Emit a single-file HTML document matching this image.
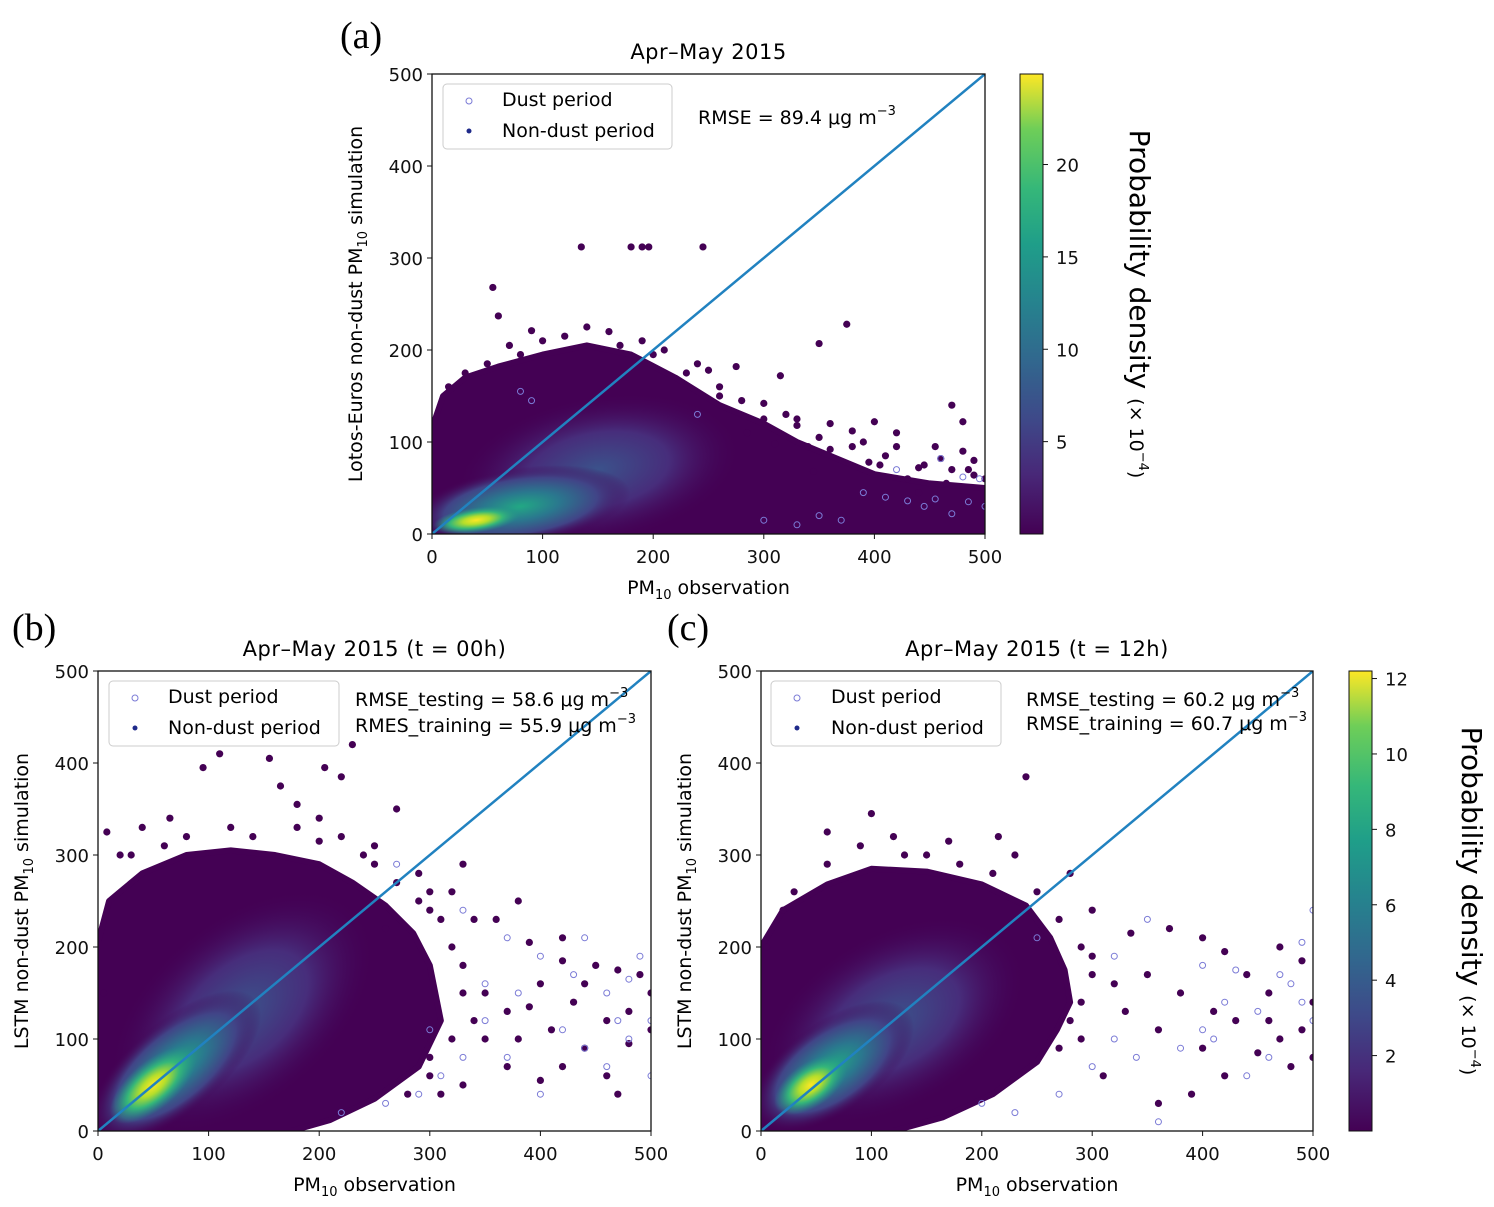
<!DOCTYPE html>
<html><head><meta charset="utf-8">
<style>
body{margin:0;background:#fff;}
svg{display:block;font-family:"DejaVu Sans","Liberation Sans",sans-serif;}
.tick{font-size:18px;fill:#111;}
.serif{font-family:"Liberation Serif",serif;}
</style></head>
<body>
<svg id="fig" width="1494" height="1207" viewBox="0 0 1494 1207">
<defs>
<linearGradient id="viridis" x1="0" y1="1" x2="0" y2="0">
<stop offset="0" stop-color="#440154"/><stop offset="0.13" stop-color="#482878"/><stop offset="0.25" stop-color="#3e4989"/><stop offset="0.38" stop-color="#31688e"/><stop offset="0.5" stop-color="#26828e"/><stop offset="0.63" stop-color="#1f9e89"/><stop offset="0.75" stop-color="#35b779"/><stop offset="0.88" stop-color="#6ece58"/><stop offset="1" stop-color="#fde725"/>
</linearGradient>
<radialGradient id="g0"><stop offset="0" stop-color="#3b528b"/><stop offset="0.5" stop-color="#472d7b"/><stop offset="1" stop-color="#440154" stop-opacity="0"/></radialGradient>
<radialGradient id="g1"><stop offset="0" stop-color="#22a884"/><stop offset="0.35" stop-color="#2a788e"/><stop offset="0.7" stop-color="#414487"/><stop offset="1" stop-color="#440154" stop-opacity="0"/></radialGradient>
<radialGradient id="g2"><stop offset="0" stop-color="#fde725"/><stop offset="0.3" stop-color="#b5de2b"/><stop offset="0.6" stop-color="#35b779"/><stop offset="1" stop-color="#21918c" stop-opacity="0"/></radialGradient>
</defs>
<g id="plots"></g>
</svg>
<script>
// ---------- data ----------
const panelNames = ["a","b","c"];
// cloud outlines [obs, sim]
const outlineA = [[0,0],[0,115],[10,150],[30,170],[60,182],[100,195],[140,205],[180,195],[220,170],[260,140],[300,120],[330,100],[360,85],[400,65],[450,55],[500,50],[500,0]];
const outlineB = [[0,0],[0,205],[10,250],[40,280],[80,300],[120,305],[160,300],[200,290],[230,270],[260,245],[285,215],[300,180],[310,120],[290,70],[250,35],[210,12],[175,0]];
const outlineC = [[0,0],[0,200],[20,240],[60,268],[100,285],[150,282],[200,268],[240,245],[262,210],[275,175],[280,140],[268,110],[250,75],[210,40],[165,15],[120,0]];
// density cores [obs, sim, rx, ry, angle, level]
const coresA = [[150,70,130,80,-10,0],[80,30,100,42,-8,1],[40,15,40,14,-8,2]];
const coresB = [[130,130,140,100,-40,0],[70,70,95,50,-40,1],[50,50,48,26,-40,2]];
const coresC = [[120,120,130,95,-30,0],[65,70,85,50,-35,1],[45,50,38,24,-35,2]];
// isolated non-dust points [obs, sim]
const ptsA = [[135,312],[180,312],[190,312],[196,312],[245,312],[55,268],[60,237],[90,221],[375,228],[350,207],[315,172],[275,182],[250,178],[400,122],[470,140],[480,122],[460,82],[490,64],[440,72],[380,112],[330,118],[360,92],[300,142],[420,95],[465,55],[395,78],[345,68],[310,98],[285,110],[430,60],[470,70],[490,80],[455,95],[410,85],[380,95],[350,105],[330,125],[320,130],[300,125],[420,110],[445,75],[500,60],[480,90],[390,100],[360,120],[340,95],[260,150],[230,175],[120,215],[160,220],[190,210],[210,200],[240,185],[70,205],[30,175],[15,160],[100,210],[140,225],[170,205],[200,195],[80,195],[50,185],[280,145],[260,160],[440,45],[485,70],[405,75]];
const ptsB = [[110,410],[155,405],[205,395],[95,395],[220,385],[270,350],[230,420],[8,325],[20,300],[180,355],[165,375],[200,315],[250,310],[290,280],[320,260],[340,230],[360,230],[300,240],[330,290],[380,250],[390,205],[420,210],[450,180],[470,175],[490,170],[400,160],[430,140],[460,120],[480,130],[500,110],[350,150],[370,130],[380,100],[410,110],[440,90],[420,70],[460,60],[470,40],[400,55],[370,70],[330,50],[300,80],[310,40],[350,100],[390,135],[420,185],[480,95],[500,150],[440,160],[330,180],[40,330],[65,340],[5,150],[140,320],[120,330],[80,320],[60,310],[180,330],[220,320],[250,290],[270,270],[300,260],[310,230],[320,200],[330,150],[340,120],[320,100],[300,60],[280,40],[30,300],[200,340],[240,300],[260,220],[290,250]];
const ptsC = [[240,385],[100,345],[215,320],[60,325],[230,300],[280,280],[300,240],[335,215],[370,220],[400,210],[420,195],[470,200],[490,185],[440,170],[460,150],[500,140],[350,170],[380,150],[410,130],[430,120],[470,100],[490,110],[500,80],[450,85],[400,90],[360,110],[330,130],[300,190],[320,160],[420,60],[390,40],[360,30],[310,60],[290,100],[480,70],[20,240],[5,200],[460,120],[90,310],[120,320],[150,300],[180,290],[210,280],[250,260],[270,230],[290,200],[300,170],[290,140],[280,120],[270,90],[60,290],[30,260],[170,315],[130,300]];
// dust period points [obs, sim]
const dustA = [[460,82],[480,62],[495,60],[410,40],[430,36],[470,22],[500,30],[350,20],[300,15],[445,30],[390,45],[420,70],[330,10],[370,15],[455,38],[485,35],[240,130],[80,155],[90,145]];
const dustB = [[270,290],[330,240],[370,210],[400,190],[430,170],[460,150],[490,190],[480,165],[500,120],[420,110],[440,90],[460,70],[480,100],[380,150],[350,120],[330,80],[310,60],[290,40],[260,30],[220,20],[370,80],[400,40],[500,60],[470,120],[440,210],[350,160],[300,110]];
const dustC = [[250,210],[320,190],[350,230],[400,180],[430,175],[470,170],[500,240],[490,205],[480,160],[450,130],[420,140],[400,110],[380,90],[460,80],[500,120],[340,80],[320,100],[300,70],[270,40],[230,20],[200,30],[360,10],[410,100],[440,60],[490,140]];
// colorbar ticks
const cbTicksA = [5,10,15,20];
const cbTicksC = [2,4,6,8,10,12];
const axisTicks = [0,100,200,300,400,500];

// ---------- layout ----------
const NS="http://www.w3.org/2000/svg";
const root=document.getElementById('plots');
function mk(tag,attrs,parent,txt){const e=document.createElementNS(NS,tag);for(const k in attrs)e.setAttribute(k,attrs[k]);if(txt!==undefined)e.textContent=txt;(parent||root).appendChild(e);return e;}

function panel(cfg){
  const {x0,x1,y0,y1,id}=cfg;
  const sx=v=>x0+v*(x1-x0)/500, sy=v=>y0-v*(y0-y1)/500;
  const g=mk('g',{});
  
  
  const clip=mk('clipPath',{id:'clip'+id},g);
  mk('rect',{x:x0,y:y1,width:x1-x0,height:y0-y1},clip);
  const pg=mk('g',{'clip-path':'url(#clip'+id+')'},g);
  const poly=mk('polygon',{points:cfg.outline.map(p=>sx(p[0])+','+sy(p[1])).join(' '),fill:'#440154',stroke:'#440154','stroke-width':6,'stroke-linejoin':'round'},pg);
  
  
  cfg.cores.forEach(c=>{
    const e=mk('ellipse',{cx:sx(c[0]),cy:sy(c[1]),rx:c[2]*(x1-x0)/500,ry:c[3]*(y0-y1)/500,fill:'url(#g'+c[5]+')',transform:'rotate('+c[4]+' '+sx(c[0])+' '+sy(c[1])+')'},pg);
    
    
  });
  cfg.pts.forEach(p=>{
    const c=mk('circle',{cx:sx(p[0]),cy:sy(p[1]),r:3.6,fill:'#440154'},pg);
    
    
  });
  cfg.dust.forEach(p=>{
    const c=mk('circle',{cx:sx(p[0]),cy:sy(p[1]),r:3,fill:'none',stroke:'#7b7bd6','stroke-width':1},pg);
    
    
  });
  const ln=mk('line',{x1:sx(0),y1:sy(0),x2:sx(500),y2:sy(500),stroke:'#2182c0','stroke-width':2.5},pg);
  
  
  const fr=mk('rect',{x:x0,y:y1,width:x1-x0,height:y0-y1,fill:'none',stroke:'#111','stroke-width':1.3},g);
  
  
  axisTicks.forEach(t=>{
    mk('line',{x1:sx(t),y1:y0,x2:sx(t),y2:y0+5,stroke:'#111'},g);
    const tx=mk('text',{x:sx(t),y:y0+29,'text-anchor':'middle',class:'tick'},g,t);
    
    
    mk('line',{x1:x0-5,y1:sy(t),x2:x0,y2:sy(t),stroke:'#111'},g);
    const ty=mk('text',{x:x0-9,y:sy(t)+7,'text-anchor':'end',class:'tick'},g,t);
    
    
  });
  const L=cfg.legend;
  const lg=mk('g',{},g);
  
  
  mk('rect',{x:L.x,y:L.y,width:L.w,height:65,rx:4,fill:'#fff','fill-opacity':0.85,stroke:'#ccc'},lg);
  mk('circle',{cx:L.x+26,cy:L.y+17,r:3,fill:'none',stroke:'#7b7bd6'},lg);
  mk('circle',{cx:L.x+26,cy:L.y+47,r:2.5,fill:'#1f2a8a'},lg);
  mk('text',{x:L.x+L.tx,y:L.y+22,style:'font-size:19px'},lg,'Dust period');
  mk('text',{x:L.x+L.tx,y:L.y+53,style:'font-size:19px'},lg,'Non-dust period');
  cfg.rmse.forEach(r=>{
    const t=mk('text',{x:r.x,y:r.y,style:'font-size:19px'},g);
    
    
    t.textContent=r.t;
    mk('tspan',{dy:-9,style:'font-size:13px'},t,'−3');
  });
  const ti=mk('text',{x:(x0+x1)/2,y:y1-15,'text-anchor':'middle',style:'font-size:21px;letter-spacing:0.5px'},g,cfg.title);
  
  
  const xl=mk('text',{x:(x0+x1)/2,y:y0+60,'text-anchor':'middle',style:'font-size:19px'},g,'PM');
  
  
  mk('tspan',{dy:5,style:'font-size:13px'},xl,'10');
  mk('tspan',{dy:-5},xl,' observation');
  const cy=(y0+y1)/2, lx=x0-70;
  const yl=mk('text',{x:lx,y:cy,'text-anchor':'middle',transform:'rotate(-90 '+lx+' '+cy+')',style:'font-size:19px'},g,cfg.ylab+' PM');
  
  
  mk('tspan',{dy:5,style:'font-size:13px'},yl,'10');
  mk('tspan',{dy:-5},yl,' simulation');
  const pl=mk('text',{x:cfg.lab[0],y:cfg.lab[1],class:'serif',style:'font-size:38px'},g,'('+id+')');
  
  
}

function colorbar(x,y0,y1,max,ticks,labx){
  const g=mk('g',{});
  
  
  mk('rect',{x:x,y:y1,width:23,height:y0-y1,fill:'url(#viridis)',stroke:'#111','stroke-width':1},g);
  ticks.forEach(t=>{
    const yy=y0-t*(y0-y1)/max;
    mk('line',{x1:x+23,y1:yy,x2:x+28,y2:yy,stroke:'#111'},g);
    const tx=mk('text',{x:x+36,y:yy+7,class:'tick'},g,t);
    
    
  });
  const cy=(y0+y1)/2;
  const t=mk('text',{x:labx,y:cy,'text-anchor':'middle',transform:'rotate(90 '+labx+' '+cy+')',style:'font-size:28px'},g,'Probability density ');
  
  
  mk('tspan',{style:'font-size:19px'},t,' (× 10');
  mk('tspan',{dy:-9,style:'font-size:13px'},t,'−4');
  mk('tspan',{dy:9,style:'font-size:19px'},t,')');
}

panel({id:'a',x0:432,x1:985,y0:534,y1:74,outline:outlineA,cores:coresA,pts:ptsA,dust:dustA,
  legend:{x:443,y:84,w:229,tx:59},rmse:[{x:698,y:124,t:'RMSE =  89.4 μg m'}],
  title:'Apr–May  2015',ylab:'Lotos-Euros non-dust',lab:[340,48]});
panel({id:'b',x0:98,x1:651,y0:1131,y1:671,outline:outlineB,cores:coresB,pts:ptsB,dust:dustB,
  legend:{x:109,y:681,w:230,tx:59},rmse:[{x:355,y:706,t:'RMSE_testing = 58.6 μg m'},{x:355,y:732,t:'RMES_training = 55.9 μg m'}],
  title:'Apr–May  2015  (t = 00h)',ylab:'LSTM non-dust',lab:[12,640]});
panel({id:'c',x0:761,x1:1313,y0:1131,y1:671,outline:outlineC,cores:coresC,pts:ptsC,dust:dustC,
  legend:{x:771,y:681,w:230,tx:60},rmse:[{x:1026,y:706,t:'RMSE_testing = 60.2 μg m'},{x:1026,y:730,t:'RMSE_training = 60.7 μg m'}],
  title:'Apr–May  2015  (t = 12h)',ylab:'LSTM non-dust',lab:[667,640]});
colorbar(1020,534,74,24.9,cbTicksA,1130);
colorbar(1349,1131,671,12.2,cbTicksC,1462);
</script>
</body></html>
